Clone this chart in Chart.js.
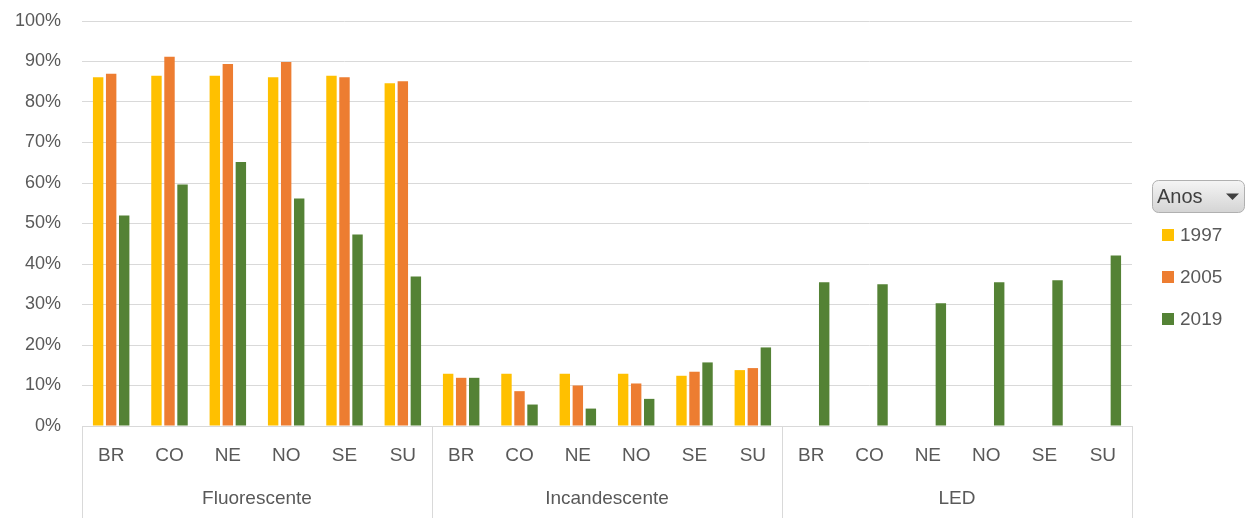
<!DOCTYPE html>
<html>
<head>
<meta charset="utf-8">
<title>Tipos de lâmpada por região</title>
<script src="https://cdn.jsdelivr.net/npm/chart.js"></script>
<style>
html,body{margin:0;padding:0;background:#fff}
#wrap{position:relative;width:1247px;height:518px}
</style>
</head>
<body>
<div id="wrap"><canvas id="chart" width="1247" height="518"></canvas></div>

<script>
// categories
const groups = ['Fluorescente', 'Incandescente', 'LED'];
const regions = ['BR', 'CO', 'NE', 'NO', 'SE', 'SU'];
const years = ['1997', '2005', '2019'];

// values in %, per region inside each group (Fluorescente, Incandescente, LED)
const v1997 = [86.1, 86.5, 86.5, 86.1, 86.5, 84.6,  12.9, 12.9, 12.9, 12.9, 12.4, 13.8,  null, null, null, null, null, null];
const v2005 = [87.0, 91.2, 89.4, 89.9, 86.1, 85.1,  11.9, 8.6, 10.0, 10.5, 13.4, 14.3,  null, null, null, null, null, null];
const v2019 = [52.0, 59.6, 65.2, 56.2, 47.3, 36.9,  11.9, 5.3, 4.3, 6.7, 15.7, 19.4,  35.5, 35.0, 30.3, 35.5, 36.0, 42.1];

const colors = ['#FFC000', '#ED7D31', '#548235'];
const FONT = '"Liberation Sans", Arial, sans-serif';
const TEXT = '#595959';
const LINE = '#d9d9d9';

const labels = groups.flatMap(() => regions);

// second row of the x axis: group names + separators
const groupAxis = {
  id: 'groupAxis',
  afterDraw(chart) {
    const {ctx, scales: {x}} = chart;
    const step = x.getPixelForValue(1) - x.getPixelForValue(0);
    ctx.save();
    ctx.strokeStyle = LINE;
    ctx.lineWidth = 1;
    ctx.fillStyle = TEXT;
    ctx.font = '19px ' + FONT;
    ctx.textAlign = 'center';
    ctx.textBaseline = 'middle';
    groups.forEach((g, i) => {
      const first = x.getPixelForValue(i * regions.length);
      const last = x.getPixelForValue((i + 1) * regions.length - 1);
      const edges = i === groups.length - 1 ? [first - step / 2, last + step / 2] : [first - step / 2];
      edges.forEach(e => {
        const px = Math.round(e) + 0.5;
        ctx.beginPath();
        ctx.moveTo(px, x.top);
        ctx.lineTo(px, chart.height);
        ctx.stroke();
      });
      ctx.fillText(g, (first + last) / 2, 499);
    });
    ctx.restore();
  }
};

// pivot-style legend with the "Anos" field button
const pivotLegend = {
  id: 'pivotLegend',
  afterDraw(chart) {
    const ctx = chart.ctx;
    ctx.save();
    // field button
    const bx = 1152.5, by = 180.5, bw = 92, bh = 32, r = 6;
    const grad = ctx.createLinearGradient(0, by, 0, by + bh);
    grad.addColorStop(0, '#f5f5f5');
    grad.addColorStop(1, '#d4d4d4');
    ctx.beginPath();
    ctx.roundRect(bx, by, bw, bh, r);
    ctx.fillStyle = grad;
    ctx.fill();
    ctx.strokeStyle = '#b0b0b0';
    ctx.stroke();
    ctx.fillStyle = '#404040';
    ctx.font = '20px ' + FONT;
    ctx.textBaseline = 'middle';
    ctx.textAlign = 'left';
    ctx.fillText('Anos', 1157, 197);
    ctx.beginPath();
    ctx.moveTo(1226, 193.5);
    ctx.lineTo(1239, 193.5);
    ctx.lineTo(1232.5, 200);
    ctx.closePath();
    ctx.fill();

    // entries
    ctx.font = '19px ' + FONT;
    chart.data.datasets.forEach((ds, i) => {
      const cy = 235 + i * 42;
      ctx.fillStyle = ds.backgroundColor;
      ctx.fillRect(1162, cy - 6, 12, 12);
      ctx.fillStyle = TEXT;
      ctx.fillText(ds.label, 1180, cy + 1);
    });
    ctx.restore();
  }
};

new Chart(document.getElementById('chart'), {
  type: 'bar',
  data: {
    labels: labels,
    datasets: [
      {label: years[0], data: v1997, backgroundColor: colors[0]},
      {label: years[1], data: v2005, backgroundColor: colors[1]},
      {label: years[2], data: v2019, backgroundColor: colors[2]}
    ]
  },
  options: {
    responsive: false,
    animation: false,
    devicePixelRatio: 1,
    categoryPercentage: 0.67,
    barPercentage: 0.8,
    layout: {padding: {top: 21, right: 115, left: 0, bottom: 0}},
    plugins: {
      legend: {display: false},
      tooltip: {enabled: false}
    },
    scales: {
      x: {
        grid: {display: false},
        border: {display: true, color: LINE},
        ticks: {
          color: TEXT,
          font: {family: FONT, size: 19},
          padding: 10,
          maxRotation: 0,
          autoSkip: false
        },
        afterFit(scale) {
          scale.height = 92;
          scale.paddingLeft = 0;
          scale.paddingRight = 0;
        }
      },
      y: {
        min: 0,
        max: 100,
        grid: {color: LINE, drawTicks: false},
        border: {display: false},
        ticks: {
          stepSize: 10,
          color: TEXT,
          font: {family: FONT, size: 18},
          padding: 21,
          callback: v => v + '%'
        },
        afterFit(scale) {
          scale.width = 82;
          scale.paddingTop = 0;
          scale.paddingBottom = 0;
        }
      }
    }
  },
  plugins: [groupAxis, pivotLegend]
});
</script>
</body>
</html>
